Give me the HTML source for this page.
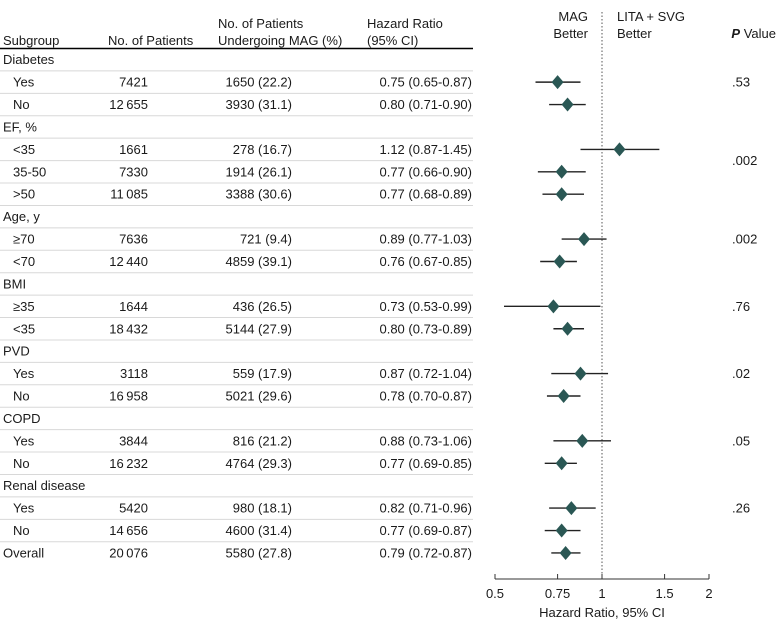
<!DOCTYPE html>
<html><head><meta charset="utf-8"><style>
body{margin:0;background:#fff;width:780px;height:632px;overflow:hidden;font-family:"Liberation Sans",sans-serif;}
svg text{font-family:"Liberation Sans",sans-serif;font-size:13px;fill:#1a1a1a;}
</style></head><body>
<svg id="c" width="780" height="632">
<g>
<text x="3" y="45">Subgroup</text>
<text x="108" y="45">No. of Patients</text>
<text x="218" y="28">No. of Patients</text>
<text x="218" y="45">Undergoing MAG (%)</text>
<text x="367" y="28">Hazard Ratio</text>
<text x="367" y="45">(95% CI)</text>
<text x="588" y="21" text-anchor="end">MAG</text>
<text x="588" y="38" text-anchor="end">Better</text>
<text x="617" y="21">LITA + SVG</text>
<text x="617" y="38">Better</text>
<text x="776" y="38" text-anchor="end"><tspan font-style="italic" font-weight="bold">P</tspan> Value</text>
<line x1="0" y1="48.5" x2="473" y2="48.5" stroke="#000" stroke-width="1.5"/>
</g>
</svg>
<script>
const labels=["Diabetes","Yes","No","EF, %","<35","35-50",">50","Age, y","≥70","<70","BMI","≥35","<35","PVD","Yes","No","COPD","Yes","No","Renal disease","Yes","No","Overall"];
const isHeader=[1,0,0,1,0,0,0,1,0,0,1,0,0,1,0,0,1,0,0,1,0,0,0];
const patients=["","7421","12\u2009655","","1661","7330","11\u2009085","","7636","12\u2009440","","1644","18\u2009432","","3118","16\u2009958","","3844","16\u2009232","","5420","14\u2009656","20\u2009076"];
const magPts=["","1650 (22.2)","3930 (31.1)","","278 (16.7)","1914 (26.1)","3388 (30.6)","","721 (9.4)","4859 (39.1)","","436 (26.5)","5144 (27.9)","","559 (17.9)","5021 (29.6)","","816 (21.2)","4764 (29.3)","","980 (18.1)","4600 (31.4)","5580 (27.8)"];
const hr=[null,0.75,0.80,null,1.12,0.77,0.77,null,0.89,0.76,null,0.73,0.80,null,0.87,0.78,null,0.88,0.77,null,0.82,0.77,0.79];
const lo=[null,0.65,0.71,null,0.87,0.66,0.68,null,0.77,0.67,null,0.53,0.73,null,0.72,0.70,null,0.73,0.69,null,0.71,0.69,0.72];
const hi=[null,0.87,0.90,null,1.45,0.90,0.89,null,1.03,0.85,null,0.99,0.89,null,1.04,0.87,null,1.06,0.85,null,0.96,0.87,0.87];
const pVals=[".53",".002",".002",".76",".02",".05",".26"];
const pRows=[1.5,5,8.5,11.5,14.5,17.5,20.5];
const ticks=[0.5,0.75,1,1.5,2];
const tickLabels=["0.5","0.75","1","1.5","2"];
const NS="http://www.w3.org/2000/svg",svg=document.getElementById('c');
const top0=48.5,rh=22.42;
const X=v=>602+107*Math.log2(v);
const Y=i=>top0+rh*(i+0.5);
function mk(t,a,txt){const e=document.createElementNS(NS,t);for(const k in a)e.setAttribute(k,a[k]);if(txt!==undefined)e.textContent=txt;svg.appendChild(e);return e;}
labels.forEach((l,i)=>{
 const y=Y(i)+4.5;
 let e=mk('text',{x:isHeader[i]||i==22?3:13,y:y},l);
 
 
 if(patients[i]){e=mk('text',{x:148,y:y,'text-anchor':'end'},patients[i]);
 
 }
 if(magPts[i]){e=mk('text',{x:292,y:y,'text-anchor':'end'},magPts[i]);
 
 }
 if(hr[i]!=null){e=mk('text',{x:472,y:y,'text-anchor':'end'},hr[i].toFixed(2)+" ("+lo[i].toFixed(2)+"-"+hi[i].toFixed(2)+")");
 
 }
 if(i>0){e=mk('line',{x1:0,x2:473,y1:top0+rh*i,y2:top0+rh*i,stroke:'#d8d8d8','stroke-width':1});
 
 }
});
let ref=mk('line',{x1:X(1),x2:X(1),y1:12,y2:579,stroke:'#555','stroke-width':1,'stroke-dasharray':'1.5,2'});


hr.forEach((v,i)=>{
 if(v==null)return;
 const y=Y(i);
 let e=mk('line',{x1:X(lo[i]),x2:X(hi[i]),y1:y,y2:y,stroke:'#222','stroke-width':1.4});
 
 
 const x=X(v);
 e=mk('polygon',{points:`${x},${y-7} ${x+6},${y} ${x},${y+7} ${x-6},${y}`,fill:'#2a5754'});
 
 
});
pVals.forEach((p,k)=>{
 const e=mk('text',{x:732,y:top0+rh*pRows[k]+4.5},p);
 
 
});
let ax=mk('line',{x1:X(0.5),x2:X(2),y1:579,y2:579,stroke:'#333','stroke-width':1});


ticks.forEach((t,k)=>{
 let e=mk('line',{x1:X(t),x2:X(t),y1:574,y2:579,stroke:'#333','stroke-width':1});
 
 
 e=mk('text',{x:X(t),y:598,'text-anchor':'middle'},tickLabels[k]);
 
 
});
let tt=mk('text',{x:X(1),y:617,'text-anchor':'middle'},"Hazard Ratio, 95% CI");


</script>
</body></html>
